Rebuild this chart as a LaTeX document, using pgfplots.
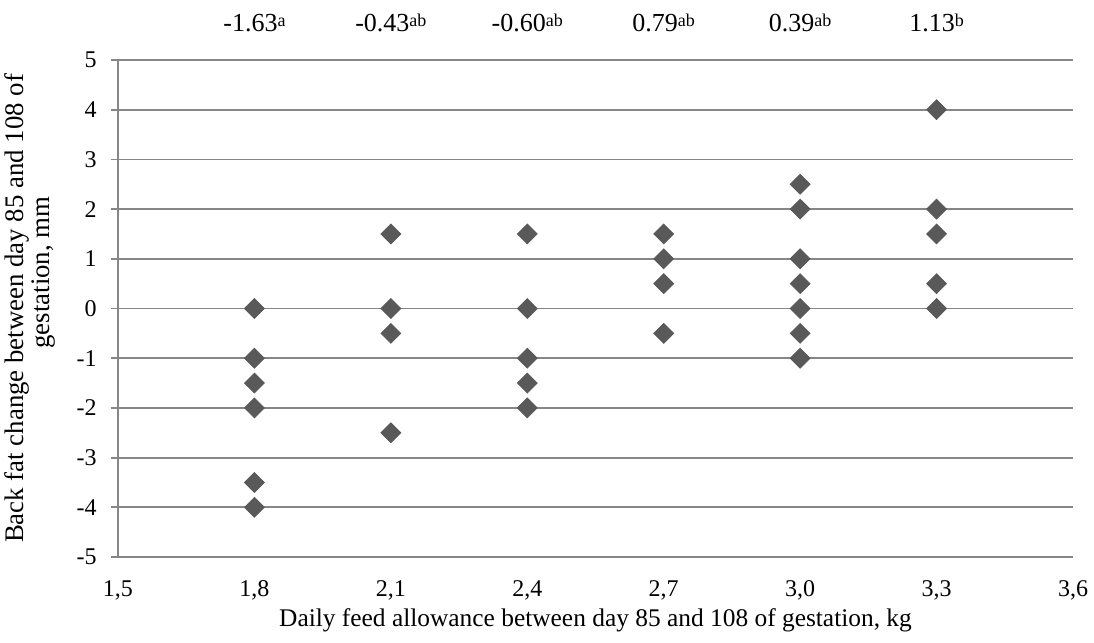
\documentclass[border=0pt]{standalone}
\usepackage{pgfplots}
\pgfplotsset{compat=1.18}
\usepackage{fontspec}
\setmainfont{Liberation Serif}
\definecolor{gridc}{RGB}{134,134,134}
\definecolor{markc}{RGB}{89,89,89}
\newcommand{\supl}[1]{\raisebox{2.5pt}{\fontsize{9}{9}\selectfont #1}}
\begin{document}
\fontsize{12}{14}\selectfont
\begin{tikzpicture}
\begin{axis}[
  name=ax,
  scale only axis,
  width=477.5pt, height=248.5pt,
  xmin=1.5, xmax=3.6, ymin=-5, ymax=5,
  axis x line=bottom, axis y line=left,
  axis line style={-, draw=gridc, line width=0.9pt},
  xtick={1.5,1.8,2.1,2.4,2.7,3.0,3.3,3.6},
  xticklabels={{1,5},{1,8},{2,1},{2,4},{2,7},{3,0},{3,3},{3,6}},
  ytick={-5,-4,-3,-2,-1,0,1,2,3,4,5},
  yticklabels={-5,-4,-3,-2,-1,0,1,2,3,4,5},
  major x tick style={draw=none},
  major y tick style={draw=gridc, line width=0.9pt},
  tick align=outside, major tick length=3.5pt,
  ymajorgrids, grid style={draw=gridc, line width=0.9pt},
  tick label style={font=\fontsize{12}{14}\selectfont},
  xticklabel style={anchor=base, yshift=-16pt},
  yticklabel style={anchor=east, xshift=-3pt},
  xlabel style={font=\fontsize{12.7}{14}\selectfont},
  ylabel style={font=\fontsize{13.4}{13}\selectfont, align=center},
  xlabel shift=-3.5pt,
  ylabel shift=2.5pt,
  xlabel={Daily feed allowance between day 85 and 108 of gestation, kg},
  ylabel={Back fat change between day 85 and 108 of\\\hspace*{36pt}gestation, mm},
  clip=false,
]
\addplot[only marks, mark=square*, mark size=3.5pt, mark options={rotate=45, fill=markc, draw=markc}] coordinates {
 (1.8,0) (1.8,-1) (1.8,-1.5) (1.8,-2) (1.8,-3.5) (1.8,-4)
 (2.1,1.5) (2.1,0) (2.1,-0.5) (2.1,-2.5)
 (2.4,1.5) (2.4,0) (2.4,-1) (2.4,-1.5) (2.4,-2)
 (2.7,1.5) (2.7,1) (2.7,0.5) (2.7,-0.5)
 (3.0,2.5) (3.0,2) (3.0,1) (3.0,0.5) (3.0,0) (3.0,-0.5) (3.0,-1)
 (3.3,4) (3.3,2) (3.3,1.5) (3.3,0.5) (3.3,0)
};
\begin{scope}[every node/.style={anchor=base, yshift=14.5pt, font=\fontsize{13}{15}\selectfont}]
\node at (axis cs:1.8,5) {-1.63\supl{a}};
\node at (axis cs:2.1,5) {-0.43\supl{ab}};
\node at (axis cs:2.4,5) {-0.60\supl{ab}};
\node at (axis cs:2.7,5) {0.79\supl{ab}};
\node at (axis cs:3.0,5) {0.39\supl{ab}};
\node at (axis cs:3.3,5) {1.13\supl{b}};
\end{scope}
\end{axis}
\pgfresetboundingbox
\path[use as bounding box] ([xshift=-59pt,yshift=-42.5pt]ax.south west) rectangle ([xshift=10.5pt,yshift=30pt]ax.north east);
\end{tikzpicture}
\end{document}
